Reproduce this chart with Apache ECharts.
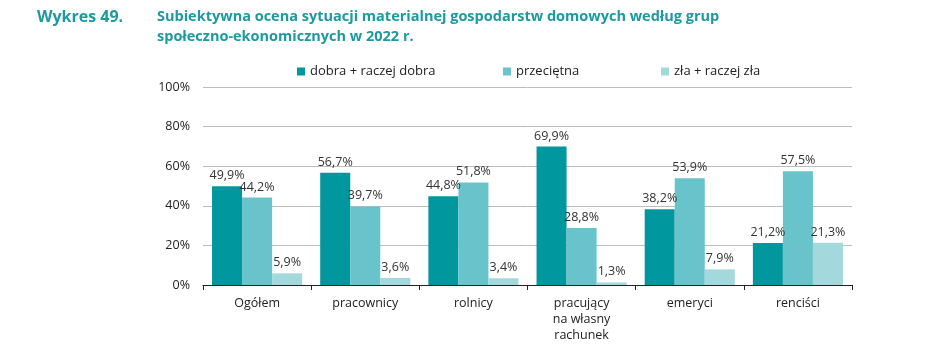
<!DOCTYPE html>
<html><head><meta charset="utf-8">
<script src="https://cdn.jsdelivr.net/npm/echarts@6/dist/echarts.min.js"></script>
<style>html,body{margin:0;padding:0;background:#fff}#c{width:948px;height:357px}</style>
</head><body><div id="c"></div>
<script>
const categories = ['Ogółem', 'pracownicy', 'rolnicy', 'pracujący\nna własny\nrachunek', 'emeryci', 'renciści'];
const seriesNames = ['dobra + raczej dobra', 'przeciętna', 'zła + raczej zła'];
const good = [49.9, 56.7, 44.8, 69.9, 38.2, 21.2];
const average = [44.2, 39.7, 51.8, 28.8, 53.9, 57.5];
const bad = [5.9, 3.6, 3.4, 1.3, 7.9, 21.3];
const yTicks = [0, 20, 40, 60, 80, 100];
const colors = ['#00979f', '#68c3ca', '#a3d9dc'];
const font = 'Open Sans';

const chart = echarts.init(document.getElementById('c'), null, {renderer: 'canvas'});
const lbl = {
  show: true, position: 'top', distance: 4, color: '#333', fontFamily: font, fontSize: 12.5,
  formatter: p => p.value.toFixed(1).replace('.', ',') + '%'
};
const legendLefts = [292, 498, 656];
chart.setOption({
  animation: false,
  color: colors,
  title: [
    {text: 'Wykres 49.', left: 37, top: 2, padding: 0, textStyle: {color: '#1b9aa0', fontFamily: font, fontWeight: 'bold', fontSize: 16, lineHeight: 30}},
    {text: 'Subiektywna ocena sytuacji materialnej gospodarstw domowych według grup\nspołeczno-ekonomicznych w 2022 r.', left: 157, top: 7, padding: 0,
     textStyle: {color: '#1b9aa0', fontFamily: font, fontWeight: 'bold', fontSize: 14.5, lineHeight: 20}}
  ],
  legend: seriesNames.map((n, i) => ({
    top: 60, left: legendLefts[i], itemWidth: 8, itemHeight: 8, icon: 'rect', itemGap: 5,
    textStyle: {color: '#222', fontFamily: font, fontSize: 13},
    data: [n]
  })),
  grid: {left: 203, right: 96, top: 87, bottom: 72},
  xAxis: {
    type: 'category', data: categories,
    axisLine: {lineStyle: {color: '#222', width: 1.2}},
    axisTick: {show: true, length: 5, inside: false, lineStyle: {color: '#222'}},
    axisLabel: {color: '#222', fontFamily: font, fontSize: 12.5, lineHeight: 16, margin: 10}
  },
  yAxis: {
    type: 'value', min: 0, max: 100, interval: 20,
    axisLabel: {color: '#222', fontFamily: font, fontSize: 12.5, margin: 13, formatter: v => yTicks.includes(v) ? v + '%' : ''},
    splitLine: {lineStyle: {color: '#bdbdbd'}},
    axisLine: {show: false}, axisTick: {show: false}
  },
  series: [
    {name: seriesNames[0], type: 'bar', data: good, barGap: 0, barCategoryGap: '16.7%', label: lbl},
    {name: seriesNames[1], type: 'bar', data: average, barGap: 0, barCategoryGap: '16.7%', label: lbl},
    {name: seriesNames[2], type: 'bar', data: bad, barGap: 0, barCategoryGap: '16.7%', label: lbl}
  ]
});
</script></body></html>
